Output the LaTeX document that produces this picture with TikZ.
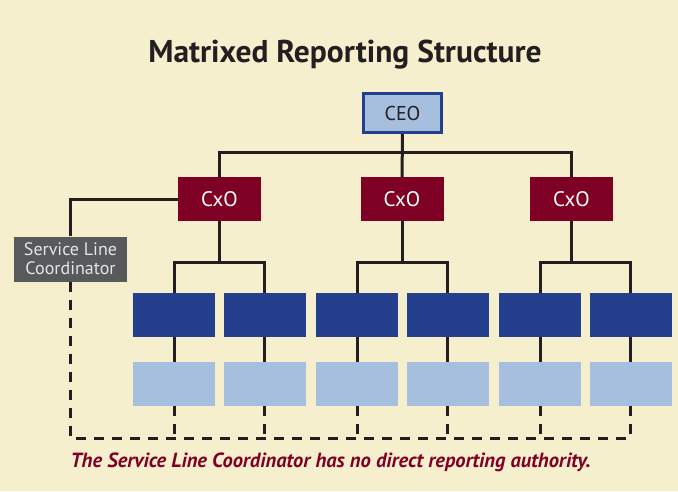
\documentclass[tikz,border=0pt]{standalone}
\usepackage{fontspec}
\setmainfont{PT Sans}
\definecolor{paper}{HTML}{F6EFCD}
\definecolor{ink}{HTML}{231F20}
\definecolor{wine}{HTML}{7F0025}
\definecolor{navy}{HTML}{243F8D}
\definecolor{pale}{HTML}{A7BFDF}
\definecolor{slate}{HTML}{58595B}
\begin{document}
\begin{tikzpicture}[x=1pt, y=-1pt,
    line/.style={ink, line width=3pt},
    dashline/.style={ink, line width=3pt, dash pattern=on 10pt off 8pt},
    topbox/.style={fill=pale, draw=navy, line width=3pt, minimum width=78pt, minimum height=39pt, inner sep=0pt, font=\fontsize{20}{20}\selectfont, text=ink},
    chief/.style={fill=wine, minimum width=83pt, minimum height=44pt, inner sep=0pt, font=\fontsize{21}{21}\selectfont, text=white},
    unit/.style={fill=navy, minimum width=82pt, minimum height=44.5pt, inner sep=0pt},
    subunit/.style={fill=pale, minimum width=82pt, minimum height=44.5pt, inner sep=0pt},
    coord/.style={fill=slate, minimum width=113pt, minimum height=45pt, inner sep=0pt, align=center, text=white!90!black, font=\fontsize{18}{19}\selectfont}]
  \fill[paper] (0,0) rectangle (678,491);

  \node[anchor=base, font=\bfseries\fontsize{31.5}{31.5}\selectfont, text=ink] (title) at (345,62) {Matrixed Reporting Structure};

  \node[topbox] (ceo) at (402.5,113) {CEO};
  \node[chief] (cxo1) at (219.5,199) {CxO};
  \node[chief] (cxo2) at (402,199) {CxO};
  \node[chief] (cxo3) at (571.5,199) {CxO};
  \node[coord] (slc) at (70.5,259) {Service Line\\Coordinator};

  % two rows of units, paired under each CxO
  \foreach \i/\x in {1/174, 2/264.5, 3/357, 4/447.5, 5/540, 6/630.5} {
    \node[unit] (d\i) at (\x,315) {};
    \node[subunit] (l\i) at (\x,384) {};
  }

  \coordinate (bus) at (402,152);
  \coordinate (f1) at (219.5,262);
  \coordinate (f2) at (402,262);
  \coordinate (f3) at (571.5,262);
  \coordinate (base) at (70.5,438);

  \draw[line] (ceo) -- (cxo2);
  \draw[line] (cxo1) |- (bus) -| (cxo3);
  \draw[line] (slc) |- (cxo1);
  \draw[line] (cxo1) -- (f1);
  \draw[line] (cxo2) -- (f2);
  \draw[line] (cxo3) -- (f3);
  \draw[line] (d1) |- (f1) -| (d2);
  \draw[line] (d3) |- (f2) -| (d4);
  \draw[line] (d5) |- (f3) -| (d6);
  \foreach \i in {1,...,6}
    \draw[line] (d\i) -- (l\i);

  % dotted-line link of the coordinator
  \draw[dashline] (slc) -- (base) -| (l6);
  \foreach \i in {1,...,5}
    \draw[dashline] (l\i) -- (l\i |- base);

  \node[anchor=base west, font=\bfseries\itshape\fontsize{20.5}{20.5}\selectfont, text=wine] (note) at (67,467) {The Service Line Coordinator has no direct reporting authority.};
\end{tikzpicture}
\end{document}
